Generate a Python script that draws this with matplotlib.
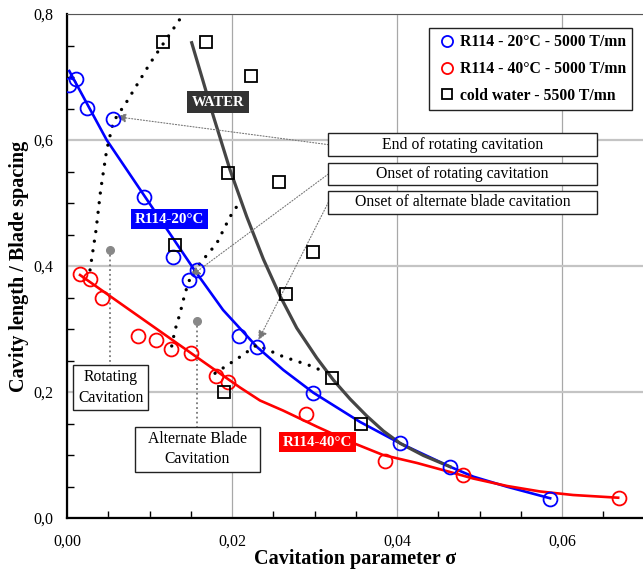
import matplotlib.pyplot as plt
from matplotlib.patches import Rectangle
from matplotlib.lines import Line2D
from matplotlib.ticker import MultipleLocator, FuncFormatter

plt.rcParams['font.family'] = ['Liberation Serif', 'DejaVu Serif']

# measured points
blue_x = [0.00024, 0.00109, 0.00246, 0.00562, 0.00933, 0.01289, 0.01482, 0.01575,
          0.02085, 0.02307, 0.02985, 0.04036, 0.04642, 0.05855]
blue_y = [0.687, 0.697, 0.651, 0.634, 0.509, 0.415, 0.377, 0.393,
          0.289, 0.271, 0.199, 0.1185, 0.0805, 0.0307]

red_x = [0.00158, 0.00279, 0.00428, 0.00864, 0.01075, 0.01261, 0.01499, 0.01802,
         0.01955, 0.02897, 0.03855, 0.04796, 0.06695]
red_y = [0.387, 0.380, 0.349, 0.289, 0.283, 0.269, 0.262, 0.226,
         0.216, 0.165, 0.091, 0.0677, 0.0322]

water_x = [0.01167, 0.01681, 0.02227, 0.01955, 0.02566, 0.01309, 0.02978, 0.02655,
           0.01903, 0.03208, 0.0356]
water_y = [0.756, 0.756, 0.702, 0.548, 0.534, 0.434, 0.423, 0.356,
           0.200, 0.2227, 0.149]

# trend curves
blue_fit_x = [0.00028, 0.00481, 0.00945, 0.01552, 0.01891, 0.02303, 0.02622, 0.02985,
              0.03552, 0.04036, 0.04642, 0.04925, 0.05330, 0.05855]
blue_fit_y = [0.7095, 0.6000, 0.5100, 0.3921, 0.3302, 0.2714, 0.2349, 0.1989,
              0.1524, 0.1186, 0.0814, 0.0656, 0.0497, 0.0313]

red_fit_x = [0.00158, 0.00764, 0.01370, 0.01794, 0.02097, 0.02339, 0.02618, 0.03030,
             0.03430, 0.03830, 0.04242, 0.04642, 0.04921, 0.05333, 0.05733, 0.06133, 0.06679]
red_fit_y = [0.3857, 0.3298, 0.2740, 0.2349, 0.2071, 0.1865, 0.1706, 0.1449,
             0.1211, 0.1000, 0.0873, 0.0730, 0.0627, 0.0508, 0.0421, 0.0365, 0.0322]

water_fit_x = [0.01511, 0.01652, 0.01773, 0.01976, 0.02178, 0.02379, 0.02582, 0.02784,
               0.03027, 0.03228, 0.03430, 0.03633, 0.03834, 0.04036, 0.04319, 0.04642]
water_fit_y = [0.7544, 0.6921, 0.6381, 0.5524, 0.4783, 0.4111, 0.3524, 0.3016,
               0.2540, 0.2190, 0.1889, 0.1619, 0.1381, 0.1186, 0.0992, 0.0814]

# cavitation regime boundaries
end_rot_x = [0.00279, 0.00352, 0.00408, 0.00481, 0.00561, 0.00724, 0.01006, 0.01402]
end_rot_y = [0.3937, 0.4571, 0.5206, 0.5841, 0.6290, 0.6608, 0.7217, 0.7984]

onset_rot_x = [0.01269, 0.01309, 0.01370, 0.01430, 0.01491, 0.01612, 0.01815, 0.01976, 0.02088]
onset_rot_y = [0.2730, 0.2984, 0.3249, 0.3567, 0.3805, 0.4043, 0.4360, 0.4783, 0.5005]

onset_alt_x = [0.01794, 0.02118, 0.02299, 0.02622, 0.02985, 0.03107]
onset_alt_y = [0.2297, 0.2576, 0.2746, 0.2560, 0.2402, 0.2322]

legend_labels = ['R114 - 20°C - 5000 T/mn', 'R114 - 40°C - 5000 T/mn', 'cold water - 5500 T/mn']
box_labels = ['End of rotating cavitation', 'Onset of rotating cavitation',
              'Onset of alternate blade cavitation']
arrow_heads = [(0.0060, 0.637), (0.0150, 0.384), (0.0232, 0.2825)]

fig = plt.figure(figsize=(6.43, 5.74), dpi=100)
ax = fig.add_axes([67 / 643, 56 / 574, 576 / 643, 504 / 574])
ax.set_xlim(0, 0.0698)
ax.set_ylim(0, 0.8)

ax.xaxis.set_major_locator(MultipleLocator(0.02))
ax.xaxis.set_minor_locator(MultipleLocator(0.005))
ax.yaxis.set_major_locator(MultipleLocator(0.2))
ax.yaxis.set_minor_locator(MultipleLocator(0.05))
ax.xaxis.set_major_formatter(FuncFormatter(lambda v, p: f'{v:.2f}'.replace('.', ',')))
ax.yaxis.set_major_formatter(FuncFormatter(lambda v, p: f'{v:.1f}'.replace('.', ',')))
ax.tick_params(which='both', direction='in', labelsize=11.5, color='black')
ax.tick_params(which='major', length=0)
ax.tick_params(which='minor', length=5, width=1)
ax.tick_params(axis='x', pad=11)
ax.tick_params(axis='y', pad=10)
ax.grid(axis='y', color='#c4c4c4', lw=1.6)
ax.grid(axis='x', color='#a8a8a8', lw=0.9)
ax.set_axisbelow(True)
for s in ['left', 'bottom']:
    ax.spines[s].set_linewidth(1.6)
ax.spines['top'].set_color('#555555')
ax.spines['right'].set_visible(False)

ax.set_xlabel('Cavitation parameter σ', fontsize=14.5, fontweight='bold', labelpad=0)
ax.set_ylabel('Cavity length / Blade spacing', fontsize=14.5, fontweight='bold', labelpad=3)

# trend curves
ax.plot(blue_fit_x, blue_fit_y, color='#0000ff', lw=1.9, zorder=3, solid_joinstyle='round')
ax.plot(red_fit_x, red_fit_y, color='#ff0000', lw=1.9, zorder=3, solid_joinstyle='round')
ax.plot(water_fit_x, water_fit_y, color='#454545', lw=2.3, zorder=3, solid_joinstyle='round')

dots = dict(color='black', lw=2.4, linestyle=(0, (0.01, 2.9)), dash_capstyle='round', zorder=4)
ax.plot(end_rot_x, end_rot_y, **dots)
ax.plot(onset_rot_x, onset_rot_y, **dots)
ax.plot(onset_alt_x, onset_alt_y, **dots)

ax.plot(blue_x, blue_y, 'o', ms=10, mfc='none', mec='#0000ff', mew=1.3, zorder=5)
ax.plot(red_x, red_y, 'o', ms=10, mfc='none', mec='#ff0000', mew=1.3, zorder=5)
ax.plot(water_x, water_y, 's', ms=9, mfc='none', mec='black', mew=1.3, zorder=5)

# coloured labels
ax.text(0.0183, 0.660, 'WATER', color='white', fontsize=10.5, fontweight='bold', ha='center',
        va='center', zorder=6, bbox=dict(boxstyle='square,pad=0.3', fc='#333333', ec='none'))
ax.text(0.01242, 0.4746, 'R114-20°C', color='white', fontsize=10.8, fontweight='bold', ha='center',
        va='center', zorder=6, bbox=dict(boxstyle='square,pad=0.25', fc='#0000ff', ec='none'))
ax.text(0.0304, 0.1206, 'R114-40°C', color='white', fontsize=10.8, fontweight='bold', ha='center',
        va='center', zorder=6, bbox=dict(boxstyle='square,pad=0.25', fc='#ff0000', ec='none'))

# boxes on the right with pointers
box_x0, box_x1 = 0.03167, 0.06421
box_tops = [0.6106, 0.564, 0.519]
box_h = 0.036
for lab, top, head in zip(box_labels, box_tops, arrow_heads):
    ax.add_patch(Rectangle((box_x0, top - box_h), box_x1 - box_x0, box_h, fc='white',
                           ec='#222222', lw=1, zorder=6))
    ax.text((box_x0 + box_x1) / 2, top - box_h / 2, lab, fontsize=11.3, ha='center',
            va='center', zorder=7)
    ax.annotate('', xy=head, xytext=(box_x0, top - box_h / 2),
                arrowprops=dict(arrowstyle='-|>', color='#777777', lw=0.8, ls=':',
                                mutation_scale=14, shrinkA=0, shrinkB=0), zorder=4)

# regime labels with markers
for cx, dot_y, x0, x1, y0, y1, txt in [
        (0.0052, 0.425, 0.00076, 0.00985, 0.1714, 0.2429, 'Rotating\nCavitation'),
        (0.0158, 0.313, 0.00824, 0.02339, 0.0735, 0.1449, 'Alternate Blade\nCavitation')]:
    ax.plot([cx, cx], [dot_y, y1], color='#777777', lw=1.3, ls=':', zorder=4)
    ax.plot(cx, dot_y, 'o', color='#888888', ms=5.5, zorder=5)
    ax.add_patch(Rectangle((x0, y0), x1 - x0, y1 - y0, fc='white', ec='#222222', lw=1, zorder=6))
    ax.text((x0 + x1) / 2, (y0 + y1) / 2, txt, fontsize=11.3, ha='center', va='center',
            linespacing=1.35, zorder=7)

handles = [Line2D([], [], ls='none', marker='o', ms=8, mfc='none', mec='#0000ff', mew=1.3),
           Line2D([], [], ls='none', marker='o', ms=8, mfc='none', mec='#ff0000', mew=1.3),
           Line2D([], [], ls='none', marker='s', ms=7.5, mfc='none', mec='black', mew=1.3)]
leg = ax.legend(handles, legend_labels, loc='upper right', bbox_to_anchor=(0.981, 0.972),
                borderaxespad=0, fancybox=False, framealpha=1, edgecolor='#222222',
                prop={'weight': 'bold', 'size': 11.3}, handlelength=1.5, handletextpad=0.05,
                labelspacing=0.68, borderpad=0.4)
leg.get_frame().set_linewidth(1)
leg.set_zorder(8)

fig.savefig('out.png', dpi=100)
